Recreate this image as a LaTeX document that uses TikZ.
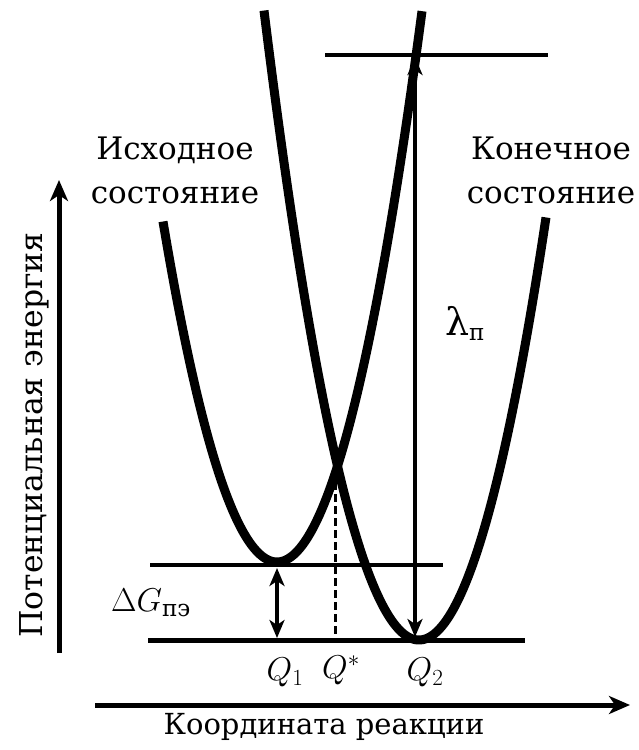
\RequirePackage{fix-cm}
\documentclass[tikz,border=0pt]{standalone}
\usepackage{fontspec}
\usepackage{amsmath}
\setmainfont{DejaVu Serif}
\usetikzlibrary{arrows.meta}
\begin{document}
\begin{tikzpicture}[x=1pt,y=-1pt,
  curve/.style={line width=9pt},
  level/.style={line width=4.5pt},
  axisarrow/.style={line width=5pt,-{Stealth[length=21pt,width=18pt,inset=6pt]}},
  dblarrow/.style={line width=3.5pt,{Stealth[length=18pt,width=15pt,inset=5pt]}-{Stealth[length=18pt,width=15pt,inset=5pt]}},
  dashline/.style={line width=3pt,dash pattern=on 8pt off 4pt},
  lbl/.style={font=\fontsize{31}{44}\selectfont,align=center,inner sep=0pt},
  axlbl/.style={font=\fontsize{30}{36}\selectfont,inner sep=0pt},
  mlbl/.style={font=\fontsize{33}{38}\selectfont,inner sep=0pt}]
\useasboundingbox (0,0) rectangle (638,750);
\fill[white] (0,0) rectangle (638,750);
% axes
\coordinate (yb) at (59,653);
\coordinate (yt) at (59,180);
\draw[axisarrow] (yb) -- (yt);
\coordinate (xl) at (95,705);
\coordinate (xr) at (630,705);
\draw[axisarrow] (xl) -- (xr);
\node[axlbl,rotate=90,font=\fontsize{31.5}{36}\selectfont] (ylab) at (34,435) {Потенциальная энергия};
\node[axlbl,font=\fontsize{29}{36}\selectfont] (xlab) at (324,727) {Координата реакции};
% levels
\coordinate (topL) at (325,55);
\coordinate (topR) at (548,55);
\draw[level] (topL) -- (topR);
\coordinate (midL) at (150,565);
\coordinate (midR) at (443,565);
\draw[level] (midL) -- (midR);
\coordinate (botL) at (148,640);
\coordinate (botR) at (525,640);
\draw[line width=5pt] (botL) -- (botR);
% parabolas
\draw[curve] plot[domain=163:422,samples=120] (\x,{562-2.62*((\x-277)/10)^2});
\draw[curve] plot[domain=264:546,samples=120] (\x,{640-2.62*((\x-419)/10)^2});
% arrows
\coordinate (g1) at (277,568);
\coordinate (g2) at (277,638);
\draw[dblarrow] (g1) -- (g2);
\coordinate (l1) at (415,57);
\coordinate (l2) at (415,637);
\draw[dblarrow] (l1) -- (l2);
\coordinate (d1) at (335,470);
\coordinate (d2) at (335,638);
\draw[dashline] (d1) -- (d2);
% labels
\node[lbl] (init) at (175,170) {Исходное\\состояние};
\node[lbl] (fin) at (551,170) {Конечное\\состояние};
\node[mlbl] (q1) at (285,672) {$Q_1$};
\node[mlbl] (qs) at (341,670) {$Q^*$};
\node[mlbl] (q2) at (425,672) {$Q_2$};
\node[mlbl] (dg) at (151,603) {$\Delta G_{\text{пэ}}$};
\node[mlbl] (lam) at (465,323) {{\fontsize{38}{40}\selectfont λ}$_{\text{п}}$};
\end{tikzpicture}
\end{document}
